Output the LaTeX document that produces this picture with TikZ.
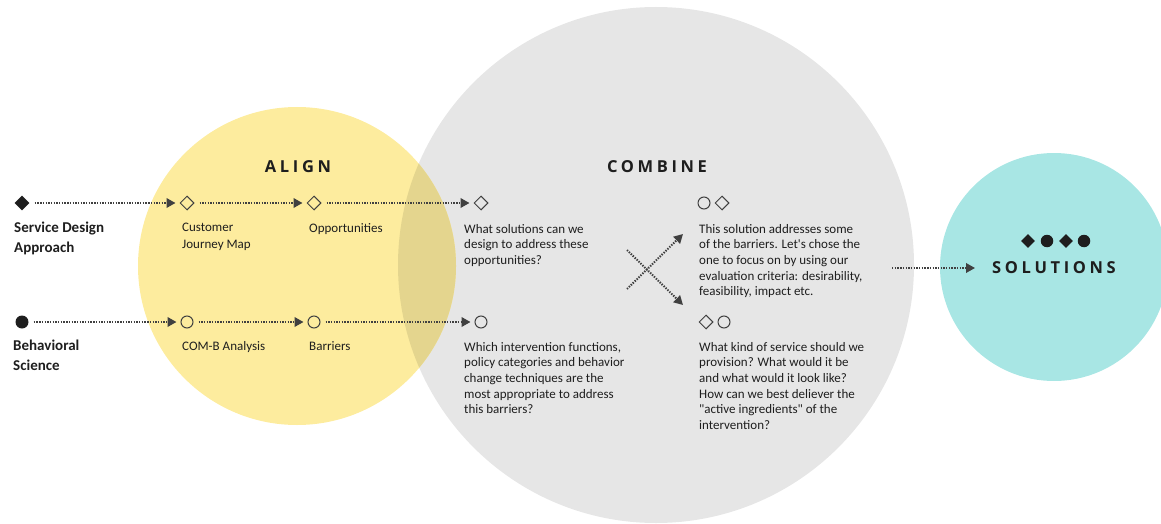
\documentclass[tikz,border=0pt]{standalone}
\usepackage{fontspec}
\setmainfont{Carlito}[Ligatures=TeXOff]
\newfontfamily\titlefont[LetterSpace=22]{Open Sans}
\usetikzlibrary{positioning,arrows.meta,shapes.geometric}
\definecolor{alignyellow}{HTML}{FDEC9E}
\definecolor{combinegrey}{HTML}{E6E6E6}
\definecolor{overlapolive}{HTML}{E4D58E}
\definecolor{solteal}{HTML}{A8E6E4}
\definecolor{flowgrey}{HTML}{404040}
\definecolor{inkdark}{HTML}{1E1E1E}
\begin{document}
\begin{tikzpicture}[x=1pt, y=-1pt, >={Triangle[length=9pt,width=9.5pt]},
  every node/.style={text=inkdark, inner sep=0pt},
  flow/.style={->, draw=flowgrey, line width=2pt, dash pattern=on 1.4pt off 1.3pt, shorten <=5pt, shorten >=4pt},
  opendia/.style={diamond, draw=flowgrey, line width=1pt, minimum width=14pt, minimum height=14pt},
  opendot/.style={circle, draw=flowgrey, line width=1pt, minimum size=12pt},
  filldia/.style={diamond, fill=inkdark, minimum width=15pt, minimum height=15pt},
  filldot/.style={circle, fill=inkdark, minimum size=13pt},
  lbl/.style={anchor=north west, align=left, font=\fontsize{13}{16.5}\selectfont},
  rowlbl/.style={anchor=north west, align=left, font=\bfseries\fontsize{15}{19.5}\selectfont},
  note/.style={anchor=north west, align=left, font=\fontsize{13}{15.6}\selectfont},
  phase/.style={font=\titlefont\bfseries\fontsize{16.5}{18}\selectfont}]
\useasboundingbox (0,0) rectangle (1161,524);
% circles
\fill[combinegrey] (656,265) circle[radius=258pt];
\fill[alignyellow] (297,266) circle[radius=159pt];
\begin{scope}
  \clip (297,266) circle[radius=159pt];
  \fill[overlapolive] (656,265) circle[radius=258pt];
\end{scope}
\fill[solteal] (1054,267) circle[radius=114pt];
% phase titles
\node[phase] (align) at (298,167) {ALIGN};
\node[phase] (combine) at (657,167) {COMBINE};
\node[phase] (solutions) at (1054,268) {SOLUTIONS};
% service design row
\node[filldia] (sd) at (22,203) {};
\node[opendia] (cjm) at (187,203) {};
\node[opendia] (opp) at (314,203) {};
\node[opendia] (sol) at (481,203) {};
\draw[flow] (sd) -- (cjm);
\draw[flow] (cjm) -- (opp);
\draw[flow] (opp) -- (sol);
\node[rowlbl] (sdtext) at (14,222) {Service Design\\Approach};
\node[lbl] (cjmtext) at (182,223) {Customer\\Journey Map};
\node[lbl] (opptext) at (309,223) {Opportunities};
\node[note] (soltext) at (464,224) {What solutions can we\\design to address these\\opportunities?};
% behavioral science row
\node[filldot] (bs) at (22,322) {};
\node[opendot] (comb) at (187,322) {};
\node[opendot] (bar) at (314,322) {};
\node[opendot] (itv) at (481,322) {};
\draw[flow] (bs) -- (comb);
\draw[flow] (comb) -- (bar);
\draw[flow] (bar) -- (itv);
\node[rowlbl] (bstext) at (13,340) {Behavioral\\Science};
\node[lbl] (combtext) at (182,341) {COM-B Analysis};
\node[lbl] (bartext) at (309,341) {Barriers};
\node[note] (itvtext) at (464,342) {Which intervention functions,\\policy categories and behavior\\change techniques are the\\most appropriate to address\\this barriers?};
% crossing
\coordinate (xa) at (627,250);
\coordinate (xb) at (683,305);
\coordinate (xc) at (627,289);
\coordinate (xd) at (683,234);
\draw[flow, shorten <=0pt, shorten >=0pt] (xa) -- (xb);
\draw[flow, shorten <=0pt, shorten >=0pt] (xc) -- (xd);
% combined answers
\node[opendot] (mixa) at (704,203) {};
\node[opendia] (mixb) at (722,203) {};
\node[note] (mixtext) at (699,224) {This solution addresses some\\of the barriers. Let's chose the\\one to focus on by using our\\evaluation criteria: desirability,\\feasibility, impact etc.};
\node[opendia] (srva) at (706,322) {};
\node[opendot] (srvb) at (724,322) {};
\node[note] (srvtext) at (699,342) {What kind of service should we\\provision? What would it be\\and what would it look like?\\How can we best deliever the\\"active ingredients" of the\\intervention?};
% solutions
\coordinate (outa) at (892,268);
\coordinate (outb) at (975,268);
\draw[flow, shorten <=0pt, shorten >=0pt] (outa) -- (outb);
\node[filldia, minimum width=14pt, minimum height=14pt] (s1) at (1028,241) {};
\node[filldot, minimum size=12.5pt] (s2) at (1047,241) {};
\node[filldia, minimum width=14pt, minimum height=14pt] (s3) at (1066,241) {};
\node[filldot, minimum size=12.5pt] (s4) at (1084,241) {};
\end{tikzpicture}
\end{document}
